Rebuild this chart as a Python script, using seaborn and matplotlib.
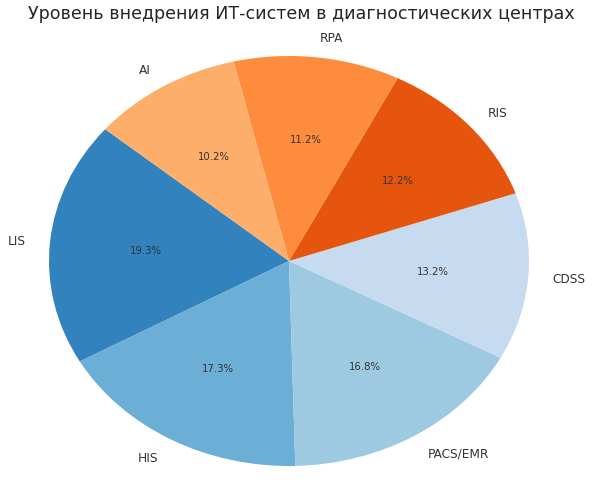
import matplotlib
matplotlib.use("Agg")
import matplotlib.pyplot as plt
import seaborn as sns

labels = ["LIS", "HIS", "PACS/EMR", "CDSS", "RIS", "RPA", "AI"]
values = [19.3, 17.3, 16.8, 13.2, 12.2, 11.2, 10.2]
title = "Уровень внедрения ИТ-систем в диагностических центрах"

sns.set_theme(style="white")
plt.rcParams['font.family'] = ['DejaVu Sans']

pal = sns.color_palette("tab20c", 20)
colors = [pal[0], pal[1], pal[2], pal[3], pal[4], pal[5], pal[6]]

fig = plt.figure(figsize=(5.94, 4.81), dpi=100)
ax = fig.add_axes([49/594, 14/481, 480/594, 410/481])
wedges, texts, autotexts = ax.pie(values, labels=labels, colors=colors, startangle=140,
                                  autopct="%1.1f%%", pctdistance=0.6, labeldistance=1.1,
                                  wedgeprops={"linewidth": 0, "edgecolor": "none"},
                                  textprops={"fontsize": 8.7, "color": "#333333"})
for t in autotexts:
    t.set_fontsize(7.3)
    t.set_color("#333333")
for t in texts:
    t.set_clip_on(False)
ax.set_aspect("auto")
ax.set_xlim(-1, 1)
ax.set_ylim(-1, 1)
fig.suptitle(title, x=0.508, y=1 - 14/481, va="center", fontsize=12.6, color="#262626")
fig.savefig("out.png", dpi=100)
